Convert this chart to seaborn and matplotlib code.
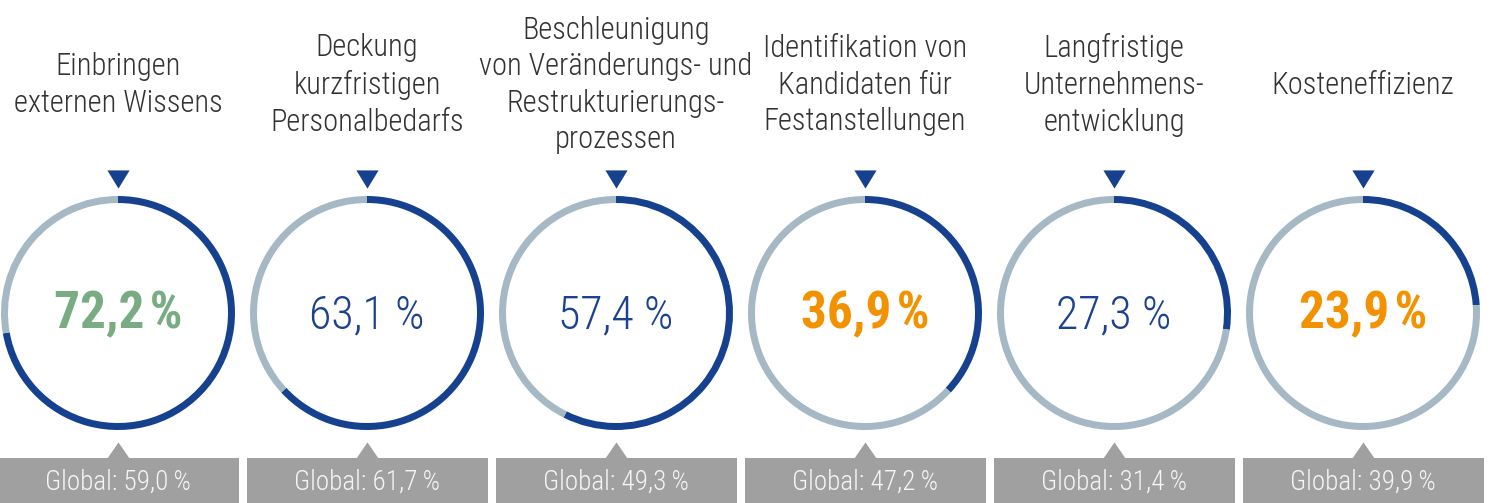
import matplotlib
matplotlib.use("Agg")
import numpy as np
import pandas as pd
import matplotlib.pyplot as plt
import seaborn as sns

# data
topics = [
    "Einbringen\nexternen Wissens",
    "Deckung\nkurzfristigen\nPersonalbedarfs",
    "Beschleunigung\nvon Veränderungs- und\nRestrukturierungs-\nprozessen",
    "Identifikation von\nKandidaten für\nFestanstellungen",
    "Langfristige\nUnternehmens-\nentwicklung",
    "Kosteneffizienz",
]
shares = [72.2, 63.1, 57.4, 36.9, 27.3, 23.9]
global_shares = [59.0, 61.7, 49.3, 47.2, 31.4, 39.9]
emphasis = ["high", "normal", "normal", "low", "normal", "low"]

BLUE = "#15418f"
RING_GREY = "#a5b8c4"
BOX_GREY = "#a0a0a0"
TITLE_COL = "#333333"
value_colors = {"high": "#7aac83", "normal": "#1d4191", "low": "#f39200"}

sns.set_theme(style="white")
plt.rcParams["font.family"] = ["Roboto Condensed", "DejaVu Sans Condensed",
                               "Roboto", "DejaVu Sans"]
plt.rcParams["font.stretch"] = "condensed"


def fmt(v, gap="\u2009"):
    return f"{v:.1f}".replace(".", ",") + gap + "%"


W, H = 1492, 503
fig = plt.figure(figsize=(W / 100, H / 100), dpi=100)
ax = fig.add_axes([0, 0, 1, 1])

unit = 249.0          # pixels per panel
cx0, cy0 = 118, 190   # first ring centre in pixels (from bottom-left)
radius = 117 / unit
ring_w = 7 / unit

df = pd.DataFrame({"topic": topics, "share": shares,
                   "glob": global_shares, "emph": emphasis})
df["pos"] = np.arange(len(df))

for _, r in df.iterrows():
    ax.pie([r.share, 100 - r.share], colors=[BLUE, RING_GREY],
           startangle=90, counterclock=False, radius=radius,
           center=(r.pos, 0),
           wedgeprops=dict(width=ring_w, linewidth=0))
    if r.emph != "normal":
        ax.text(r.pos, -0.005, fmt(r.share, "\u200a"), ha="center",
                va="center", fontsize=37, color=value_colors[r.emph],
                fontweight="bold")
    else:
        ax.text(r.pos, -0.01, fmt(r.share, " "), ha="center", va="center",
                fontsize=33, color=value_colors[r.emph], fontweight="light")
    ax.text(r.pos, (418 - cy0) / unit, r.topic, ha="center", va="center",
            ma="center", fontsize=22, color=TITLE_COL, linespacing=1.33,
            fontweight="light")
    ax.text(r.pos, (21 - cy0) / unit, "Global: " + fmt(r.glob),
            ha="center", va="center", fontsize=19.5, color="#f6f6f6",
            fontweight="light")

# grey boxes for the global figure
y_bottom = -cy0 / unit
box_top = (45 - cy0) / unit
ax.bar(df["pos"], box_top - y_bottom + 0.1, bottom=y_bottom - 0.1,
       width=241 / unit, color=BOX_GREY, linewidth=0)

# pointer triangles
down_tri = [(-11, 9), (11, 9), (0, -9), (-11, 9)]
up_tri = [(-11, -8), (11, -8), (0, 8), (-11, -8)]
sns.scatterplot(x=df["pos"], y=np.full(len(df), (324 - cy0) / unit), ax=ax,
                marker=down_tri, s=16 ** 2, color=BLUE, linewidth=0)
sns.scatterplot(x=df["pos"], y=np.full(len(df), (53 - cy0) / unit), ax=ax,
                marker=up_tri, s=16 ** 2, color=BOX_GREY, linewidth=0)

ax.set_xlim(-cx0 / unit, (W - cx0) / unit)
ax.set_ylim(-cy0 / unit, (H - cy0) / unit)
ax.set_aspect("equal")
ax.axis("off")

fig.savefig("out.png", dpi=100)
